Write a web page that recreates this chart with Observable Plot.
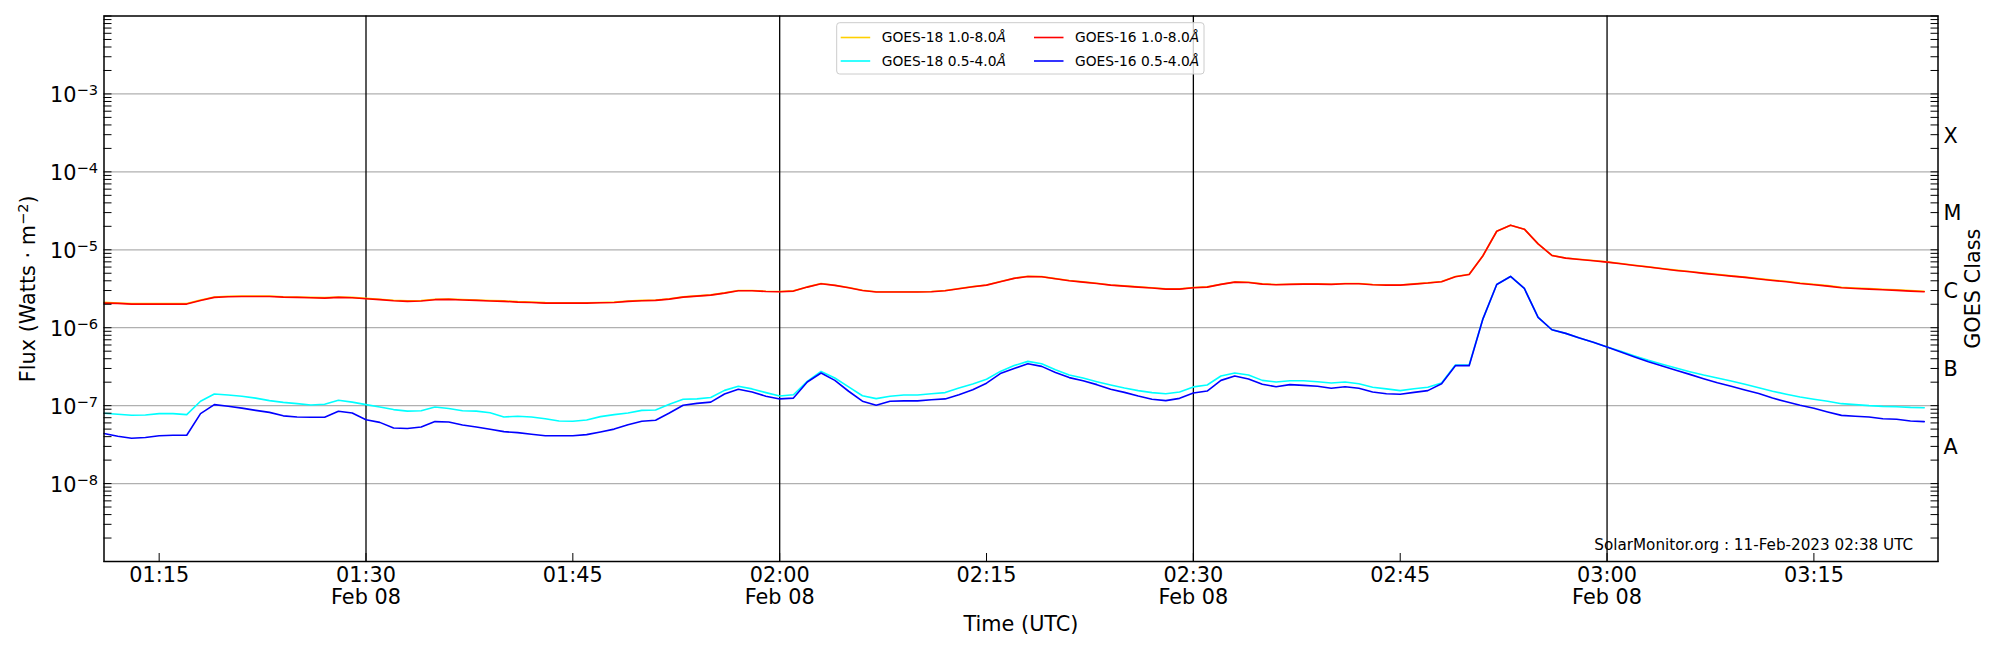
<!DOCTYPE html>
<html>
<head>
<meta charset="utf-8">
<script src="https://cdn.jsdelivr.net/npm/d3@7"></script>
<script src="https://cdn.jsdelivr.net/npm/@observablehq/plot@0.6"></script>
<style>
  html, body { margin: 0; padding: 0; background: #ffffff; }
  #chart svg { display: block; }
</style>
</head>
<body>
<div id="chart"></div>
<script>
// ---------------- data ----------------
const startTime = "2023-02-08T01:11:00Z";   // first 1-minute sample
const endTime   = "2023-02-08T03:24:00Z";   // axis end (last sample at 03:23)

const seriesNames = ["GOES-18 1.0-8.0Å", "GOES-18 0.5-4.0Å", "GOES-16 1.0-8.0Å", "GOES-16 0.5-4.0Å"];

const g18Long = [
  2.12e-6, 2.08e-6, 2.04e-6, 2.04e-6, 2.04e-6, 2.04e-6, 2.04e-6,
  2.27e-6, 2.48e-6, 2.53e-6, 2.55e-6, 2.55e-6, 2.55e-6, 2.50e-6,
  2.48e-6, 2.45e-6, 2.43e-6, 2.48e-6, 2.45e-6, 2.38e-6, 2.32e-6,
  2.25e-6, 2.21e-6, 2.23e-6, 2.32e-6, 2.34e-6, 2.30e-6, 2.27e-6,
  2.23e-6, 2.21e-6, 2.16e-6, 2.14e-6, 2.10e-6, 2.09e-6,
  2.09e-6, 2.09e-6, 2.11e-6, 2.13e-6, 2.20e-6, 2.24e-6, 2.26e-6,
  2.35e-6, 2.49e-6, 2.56e-6, 2.64e-6, 2.80e-6, 3.00e-6, 3.00e-6,
  2.94e-6, 2.91e-6, 2.97e-6, 3.34e-6, 3.69e-6, 3.51e-6, 3.28e-6,
  3.03e-6, 2.89e-6, 2.89e-6, 2.89e-6, 2.89e-6, 2.91e-6, 3.00e-6,
  3.18e-6, 3.37e-6, 3.54e-6, 3.91e-6, 4.32e-6,
  4.57e-6, 4.53e-6, 4.27e-6, 4.03e-6, 3.87e-6, 3.72e-6, 3.54e-6,
  3.44e-6, 3.34e-6, 3.25e-6, 3.15e-6, 3.15e-6, 3.28e-6, 3.34e-6,
  3.62e-6, 3.87e-6, 3.83e-6, 3.65e-6, 3.58e-6, 3.62e-6, 3.65e-6,
  3.65e-6, 3.62e-6, 3.69e-6, 3.69e-6, 3.58e-6, 3.54e-6, 3.54e-6,
  3.65e-6, 3.76e-6, 3.91e-6, 4.53e-6, 4.85e-6,
  8.40e-6, 1.73e-5, 2.07e-5, 1.84e-5, 1.19e-5, 8.48e-6, 7.85e-6,
  7.56e-6, 7.27e-6, 6.99e-6, 6.66e-6, 6.34e-6, 6.04e-6, 5.75e-6,
  5.48e-6, 5.27e-6, 5.03e-6, 4.83e-6, 4.64e-6, 4.47e-6, 4.26e-6,
  4.09e-6, 3.94e-6, 3.75e-6, 3.61e-6, 3.47e-6, 3.31e-6, 3.24e-6,
  3.18e-6, 3.12e-6, 3.06e-6, 3.00e-6, 2.94e-6
];

const g18Short = [
  8.0e-8, 7.74e-8, 7.52e-8, 7.6e-8, 7.9e-8, 7.9e-8, 7.67e-8,
  1.14e-7, 1.41e-7, 1.37e-7, 1.32e-7, 1.25e-7, 1.16e-7, 1.10e-7,
  1.06e-7, 1.02e-7, 1.04e-7, 1.17e-7, 1.11e-7, 1.03e-7, 9.6e-8,
  8.9e-8, 8.5e-8, 8.6e-8, 9.6e-8, 9.2e-8, 8.6e-8, 8.5e-8,
  8.1e-8, 7.16e-8, 7.3e-8, 7.16e-8, 6.8e-8, 6.35e-8,
  6.3e-8, 6.55e-8, 7.23e-8, 7.67e-8, 8.05e-8, 8.7e-8, 8.8e-8,
  1.04e-7, 1.21e-7, 1.22e-7, 1.27e-7, 1.57e-7, 1.77e-7, 1.64e-7,
  1.47e-7, 1.33e-7, 1.38e-7, 2.05e-7, 2.75e-7, 2.26e-7, 1.74e-7,
  1.34e-7, 1.23e-7, 1.32e-7, 1.37e-7, 1.37e-7, 1.42e-7, 1.47e-7,
  1.68e-7, 1.90e-7, 2.18e-7, 2.75e-7, 3.27e-7,
  3.70e-7, 3.45e-7, 2.89e-7, 2.47e-7, 2.26e-7, 2.03e-7, 1.84e-7,
  1.68e-7, 1.56e-7, 1.47e-7, 1.42e-7, 1.50e-7, 1.74e-7, 1.84e-7,
  2.40e-7, 2.62e-7, 2.47e-7, 2.11e-7, 2.01e-7, 2.09e-7, 2.09e-7,
  2.03e-7, 1.95e-7, 2.01e-7, 1.91e-7, 1.72e-7, 1.64e-7, 1.56e-7,
  1.65e-7, 1.72e-7, 1.95e-7, 3.32e-7, 3.32e-7,
  1.30e-6, 3.59e-6, 4.55e-6, 3.19e-6, 1.36e-6, 9.42e-7, 8.46e-7,
  7.38e-7, 6.49e-7, 5.65e-7, 4.98e-7, 4.34e-7, 3.81e-7, 3.39e-7,
  3.04e-7, 2.73e-7, 2.47e-7, 2.26e-7, 2.07e-7, 1.88e-7, 1.70e-7,
  1.53e-7, 1.40e-7, 1.29e-7, 1.21e-7, 1.14e-7, 1.06e-7, 1.03e-7,
  1.00e-7, 9.8e-8, 9.7e-8, 9.5e-8, 9.4e-8
];

const g16Long = [
  2.07e-6, 2.05e-6, 2.01e-6, 2.01e-6, 2.01e-6, 2.01e-6, 2.01e-6,
  2.24e-6, 2.45e-6, 2.50e-6, 2.52e-6, 2.52e-6, 2.52e-6, 2.47e-6,
  2.45e-6, 2.42e-6, 2.40e-6, 2.45e-6, 2.42e-6, 2.35e-6, 2.29e-6,
  2.22e-6, 2.18e-6, 2.20e-6, 2.29e-6, 2.31e-6, 2.27e-6, 2.24e-6,
  2.20e-6, 2.18e-6, 2.13e-6, 2.11e-6, 2.07e-6, 2.07e-6,
  2.07e-6, 2.07e-6, 2.09e-6, 2.11e-6, 2.18e-6, 2.22e-6, 2.24e-6,
  2.33e-6, 2.47e-6, 2.54e-6, 2.62e-6, 2.78e-6, 2.98e-6, 2.98e-6,
  2.92e-6, 2.89e-6, 2.95e-6, 3.32e-6, 3.67e-6, 3.49e-6, 3.26e-6,
  3.01e-6, 2.87e-6, 2.87e-6, 2.87e-6, 2.87e-6, 2.89e-6, 2.98e-6,
  3.16e-6, 3.35e-6, 3.52e-6, 3.89e-6, 4.30e-6,
  4.55e-6, 4.51e-6, 4.25e-6, 4.01e-6, 3.85e-6, 3.70e-6, 3.52e-6,
  3.42e-6, 3.32e-6, 3.23e-6, 3.13e-6, 3.13e-6, 3.26e-6, 3.32e-6,
  3.60e-6, 3.85e-6, 3.81e-6, 3.63e-6, 3.56e-6, 3.60e-6, 3.63e-6,
  3.63e-6, 3.60e-6, 3.67e-6, 3.67e-6, 3.56e-6, 3.52e-6, 3.52e-6,
  3.63e-6, 3.74e-6, 3.89e-6, 4.51e-6, 4.83e-6,
  8.38e-6, 1.73e-5, 2.07e-5, 1.84e-5, 1.19e-5, 8.46e-6, 7.82e-6,
  7.52e-6, 7.23e-6, 6.95e-6, 6.62e-6, 6.30e-6, 6.00e-6, 5.70e-6,
  5.43e-6, 5.22e-6, 4.98e-6, 4.78e-6, 4.59e-6, 4.42e-6, 4.21e-6,
  4.04e-6, 3.89e-6, 3.70e-6, 3.56e-6, 3.42e-6, 3.26e-6, 3.19e-6,
  3.13e-6, 3.07e-6, 3.01e-6, 2.95e-6, 2.89e-6
];

const g16Short = [
  4.38e-8, 4.05e-8, 3.81e-8, 3.9e-8, 4.1e-8, 4.17e-8, 4.17e-8,
  7.9e-8, 1.03e-7, 9.8e-8, 9.3e-8, 8.7e-8, 8.2e-8, 7.4e-8,
  7.16e-8, 7.1e-8, 7.1e-8, 8.46e-8, 8.05e-8, 6.6e-8, 6.1e-8,
  5.17e-8, 5.1e-8, 5.33e-8, 6.24e-8, 6.17e-8, 5.65e-8, 5.33e-8,
  4.97e-8, 4.64e-8, 4.5e-8, 4.3e-8, 4.1e-8, 4.1e-8,
  4.1e-8, 4.25e-8, 4.6e-8, 5.0e-8, 5.7e-8, 6.3e-8, 6.5e-8,
  8.05e-8, 1.01e-7, 1.07e-7, 1.11e-7, 1.41e-7, 1.62e-7, 1.50e-7,
  1.32e-7, 1.22e-7, 1.25e-7, 2.01e-7, 2.62e-7, 2.11e-7, 1.53e-7,
  1.14e-7, 1.01e-7, 1.14e-7, 1.15e-7, 1.15e-7, 1.19e-7, 1.22e-7,
  1.38e-7, 1.60e-7, 1.94e-7, 2.58e-7, 3.00e-7,
  3.45e-7, 3.19e-7, 2.67e-7, 2.29e-7, 2.09e-7, 1.86e-7, 1.62e-7,
  1.48e-7, 1.33e-7, 1.21e-7, 1.16e-7, 1.24e-7, 1.45e-7, 1.54e-7,
  2.11e-7, 2.40e-7, 2.20e-7, 1.88e-7, 1.75e-7, 1.86e-7, 1.82e-7,
  1.77e-7, 1.67e-7, 1.75e-7, 1.67e-7, 1.50e-7, 1.42e-7, 1.40e-7,
  1.48e-7, 1.56e-7, 1.91e-7, 3.26e-7, 3.26e-7,
  1.30e-6, 3.59e-6, 4.55e-6, 3.19e-6, 1.36e-6, 9.42e-7, 8.46e-7,
  7.38e-7, 6.49e-7, 5.65e-7, 4.88e-7, 4.21e-7, 3.66e-7, 3.23e-7,
  2.84e-7, 2.52e-7, 2.22e-7, 1.97e-7, 1.77e-7, 1.59e-7, 1.43e-7,
  1.25e-7, 1.12e-7, 1.01e-7, 9.25e-8, 8.3e-8, 7.5e-8, 7.3e-8,
  7.16e-8, 6.8e-8, 6.7e-8, 6.35e-8, 6.24e-8
];

const yDecades = [1e-8, 1e-7, 1e-6, 1e-5, 1e-4, 1e-3];
const yTickLabels = ["10^{−8}", "10^{−7}", "10^{−6}", "10^{−5}", "10^{−4}", "10^{−3}"];

const xTickTimes = ["2023-02-08T01:15:00Z", "2023-02-08T01:30:00Z", "2023-02-08T01:45:00Z",
                    "2023-02-08T02:00:00Z", "2023-02-08T02:15:00Z", "2023-02-08T02:30:00Z",
                    "2023-02-08T02:45:00Z", "2023-02-08T03:00:00Z", "2023-02-08T03:15:00Z"];
const xTickLabels = ["01:15", "01:30\nFeb 08", "01:45", "02:00\nFeb 08", "02:15",
                     "02:30\nFeb 08", "02:45", "03:00\nFeb 08", "03:15"];
const vLineTimes = ["2023-02-08T01:30:00Z", "2023-02-08T02:00:00Z", "2023-02-08T02:30:00Z", "2023-02-08T03:00:00Z"];

const classNames   = ["A", "B", "C", "M", "X"];
const classCenters = [3.1623e-8, 3.1623e-7, 3.1623e-6, 3.1623e-5, 3.1623e-4];

const xLabel = "Time (UTC)";
const yLabel = "Flux (Watts · m^{−2})";
const y2Label = "GOES Class";
const footerText = "SolarMonitor.org : 11-Feb-2023 02:38 UTC";

// ---------------- styles ----------------
const seriesColors = ["#ffd000", "#00ffff", "#ff0000", "#0000ff"];
const FONT = "DejaVu Sans";
const FS = 20.8;

// ---------------- build ----------------
const times = d3.utcMinute.range(new Date(startTime), new Date(endTime));
const seriesValues = [g18Long, g18Short, g16Long, g16Short];
const table = seriesNames.flatMap((name, s) =>
  seriesValues[s].map((v, i) => ({time: times[i], flux: v, series: name})));

const logTicks = d3.range(-9, -2)
  .flatMap(e => d3.range(1, 10).map(m => m * Math.pow(10, e)))
  .concat([1e-2]);

const xTicks = xTickTimes.map(d => new Date(d));
const vLines = vLineTimes.map(d => new Date(d));
const labelFor = d => yTickLabels[yDecades.findIndex(v => Math.abs(Math.log10(v) - Math.log10(d)) < 1e-6)];
const xLabelFor = d => xTickLabels[xTicks.findIndex(t => +t === +d)];

const chart = Plot.plot({
  width: 2000,
  height: 650,
  marginLeft: 103.5,
  marginRight: 62.5,
  marginTop: 15.5,
  marginBottom: 89,
  style: `font-family: '${FONT}'; font-size: ${FS}px; color: black; background: white; overflow: visible;`,
  x: {type: "utc", domain: [new Date(startTime), new Date(endTime)]},
  y: {type: "log", domain: [1e-9, 1e-2]},
  color: {domain: seriesNames, range: seriesColors},
  marks: [
    Plot.ruleY(yDecades, {stroke: "#b0b0b0", strokeWidth: 1.2}),
    Plot.ruleX(vLines, {stroke: "black", strokeWidth: 1.3}),
    Plot.line(table, {x: "time", y: "flux", z: "series", stroke: "series", strokeWidth: 1.6}),
    Plot.frame({stroke: "black", strokeWidth: 1.5}),
    // inward ticks
    Plot.axisY(logTicks, {anchor: "left", tickSize: 8, dx: 8, tickFormat: () => "", label: null, strokeWidth: 1}),
    Plot.axisY(logTicks, {anchor: "right", tickSize: 8, dx: -8, tickFormat: () => "", label: null, strokeWidth: 1}),
    Plot.axisX(xTicks, {anchor: "bottom", tickSize: 8, dy: -8, tickFormat: () => "", label: null, strokeWidth: 1}),
    // tick labels
    Plot.axisY(yDecades, {anchor: "left", tickSize: 0, tickPadding: 6, dy: 1.7, fontSize: FS,
                          tickFormat: labelFor, label: null}),
    Plot.axisX(xTicks, {anchor: "bottom", tickSize: 0, tickPadding: 4.25, fontSize: FS, lineHeight: 1.087,
                        tickFormat: xLabelFor, label: null}),
    // GOES class labels
    Plot.text(classNames, {y: (d, i) => classCenters[i], text: d => d, frameAnchor: "right",
                           textAnchor: "start", dx: 5.5, dy: 3, fontSize: FS, fill: "black"}),
    // axis titles
    Plot.text([xLabel], {text: d => d, frameAnchor: "bottom", textAnchor: "middle", dy: 69.7,
                         lineAnchor: "bottom", fontSize: FS, fill: "black"}),
    Plot.text([yLabel], {text: d => d, frameAnchor: "left", textAnchor: "middle", dx: -69, rotate: -90,
                         lineAnchor: "bottom", fontSize: FS, fill: "black"}),
    Plot.text([y2Label], {text: d => d, frameAnchor: "right", textAnchor: "middle", dx: 41.5, rotate: -90,
                          lineAnchor: "bottom", fontSize: FS, fill: "black"}),
    // footer stamp
    Plot.text([footerText], {text: d => d, frameAnchor: "bottom-right", dx: -24.8, dy: -11.7,
                             textAnchor: "end", lineAnchor: "bottom", fontSize: 15.2, fill: "black"})
  ]
});

document.getElementById("chart").appendChild(chart);

// superscripts written as ^{...}
d3.select(chart).selectAll("text").each(function () {
  if (this.querySelector("tspan")) return;
  const t = this.textContent;
  const m = t.match(/^(.*)\^\{(.*)\}(.*)$/);
  if (!m) return;
  const el = d3.select(this);
  el.text(null);
  el.append("tspan").text(m[1]);
  el.append("tspan").attr("dy", -7.4).attr("font-size", 14.6).text(m[2]);
  if (m[3]) el.append("tspan").attr("dy", 7.4).text(m[3]);
});

// legend (matplotlib-style, two columns, column-major)
const svg = d3.select(chart);
const lg = svg.append("g")
  .attr("font-family", FONT).attr("font-size", 13.8).attr("text-anchor", "start");
lg.append("rect")
  .attr("x", 836.7).attr("y", 22.7).attr("width", 367.3).attr("height", 51.3)
  .attr("rx", 3).attr("fill", "white").attr("fill-opacity", 0.8)
  .attr("stroke", "#cccccc").attr("stroke-width", 1);
const colX = [840.7, 1034];
const rowY = [37.5, 61];
seriesNames.forEach((name, i) => {
  const c = Math.floor(i / 2), r = i % 2;
  lg.append("line")
    .attr("x1", colX[c]).attr("x2", colX[c] + 29.5)
    .attr("y1", rowY[r]).attr("y2", rowY[r])
    .attr("stroke", seriesColors[i]).attr("stroke-width", 1.6);
  const tx = lg.append("text")
    .attr("x", colX[c] + 41).attr("y", rowY[r] + 4.9)
    .attr("fill", "black").attr("text-anchor", "start");
  tx.append("tspan").text(name.slice(0, -1));
  tx.append("tspan").attr("font-style", "italic").text(name.slice(-1));
});
</script>
</body>
</html>
